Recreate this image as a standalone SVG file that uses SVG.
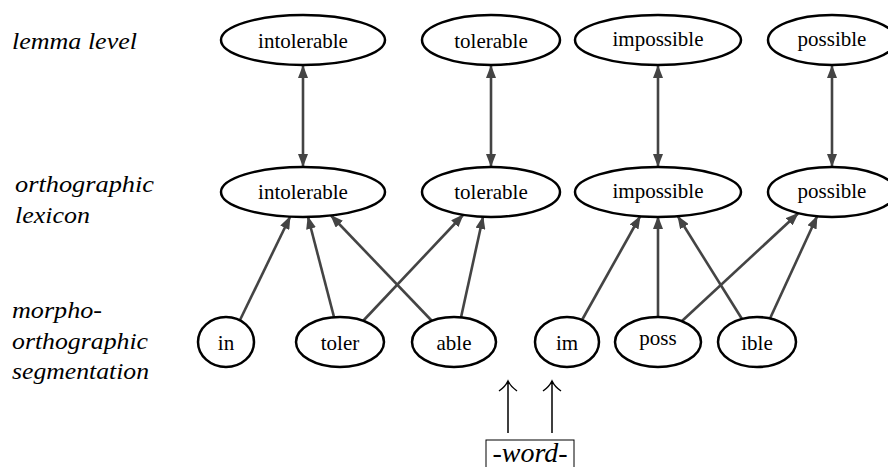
<svg xmlns="http://www.w3.org/2000/svg" width="888" height="467" viewBox="0 0 888 467" font-family="Liberation Serif, Times New Roman, serif">
<style>
.node ellipse{fill:#fff;stroke:#000;stroke-width:2.5}
.node text{font-size:21px;text-anchor:middle;fill:#000}
.lbl{font-style:italic;font-size:24px;fill:#000}
.edge{stroke:#444;stroke-width:2.6;fill:none;marker-end:url(#ah)}
.dbl{marker-start:url(#ah)}
.up{stroke:#000;stroke-width:1.5;fill:none}
</style>
<defs>
<marker id="ah" markerUnits="userSpaceOnUse" markerWidth="13" markerHeight="10" refX="12" refY="5" orient="auto-start-reverse">
<path d="M0,0 L13,5 L0,10 z" fill="#444"/>
</marker>
</defs>
<rect width="888" height="467" fill="#fff"/>
<g id="labels" font-family="Liberation Serif, serif">
<text class="lbl" x="12" y="49" textLength="125" lengthAdjust="spacingAndGlyphs">lemma level</text>
<text class="lbl" x="15" y="192" textLength="139" lengthAdjust="spacingAndGlyphs">orthographic</text>
<text class="lbl" x="15" y="223" textLength="75" lengthAdjust="spacingAndGlyphs">lexicon</text>
<text class="lbl" x="12" y="318" textLength="90" lengthAdjust="spacingAndGlyphs">morpho-</text>
<text class="lbl" x="12" y="349" textLength="136" lengthAdjust="spacingAndGlyphs">orthographic</text>
<text class="lbl" x="12" y="379" textLength="137" lengthAdjust="spacingAndGlyphs">segmentation</text>
</g>
<g id="connectors">
<line class="edge dbl" x1="303" y1="66" x2="303" y2="166"/>
<line class="edge dbl" x1="491" y1="66" x2="491" y2="166"/>
<line class="edge dbl" x1="658" y1="66" x2="658" y2="166"/>
<line class="edge dbl" x1="832" y1="66" x2="832" y2="166"/>
<line class="edge" x1="240" y1="320" x2="290" y2="217"/>
<line class="edge" x1="334" y1="317" x2="308" y2="217"/>
<line class="edge" x1="432" y1="321" x2="331" y2="215.5"/>
<line class="edge" x1="363" y1="321" x2="463" y2="215"/>
<line class="edge" x1="461" y1="317.5" x2="483" y2="217"/>
<line class="edge" x1="582" y1="320" x2="640" y2="216.5"/>
<line class="edge" x1="658" y1="317" x2="658" y2="217"/>
<line class="edge" x1="742" y1="319" x2="678" y2="216.5"/>
<line class="edge" x1="682" y1="321" x2="798" y2="213.5"/>
<line class="edge" x1="770" y1="318.5" x2="817" y2="216.5"/>
</g>
<g id="nodes" font-family="Liberation Serif, serif">
<g id="n-intolerable-lemma" class="node"><ellipse cx="303" cy="40" rx="82" ry="25"/><text x="303" y="47.5">intolerable</text></g>
<g id="n-tolerable-lemma" class="node"><ellipse cx="491" cy="40" rx="69" ry="25"/><text x="491" y="47.5">tolerable</text></g>
<g id="n-impossible-lemma" class="node"><ellipse cx="658" cy="40" rx="83" ry="25"/><text x="658" y="46">impossible</text></g>
<g id="n-possible-lemma" class="node"><ellipse cx="832" cy="40" rx="64" ry="25"/><text x="832" y="46">possible</text></g>
<g id="n-intolerable-orth" class="node"><ellipse cx="303" cy="192" rx="82" ry="25"/><text x="303" y="199">intolerable</text></g>
<g id="n-tolerable-orth" class="node"><ellipse cx="491" cy="192" rx="69" ry="25"/><text x="491" y="199">tolerable</text></g>
<g id="n-impossible-orth" class="node"><ellipse cx="658" cy="192" rx="83" ry="25"/><text x="658" y="198">impossible</text></g>
<g id="n-possible-orth" class="node"><ellipse cx="832" cy="192" rx="64" ry="25"/><text x="832" y="198">possible</text></g>
<g id="n-in" class="node"><ellipse cx="226" cy="342" rx="28" ry="25"/><text x="226" y="350">in</text></g>
<g id="n-toler" class="node"><ellipse cx="340" cy="342" rx="44" ry="25"/><text x="340" y="350">toler</text></g>
<g id="n-able" class="node"><ellipse cx="454" cy="342" rx="42" ry="25"/><text x="454" y="350">able</text></g>
<g id="n-im" class="node"><ellipse cx="567" cy="342" rx="32" ry="25"/><text x="567" y="350">im</text></g>
<g id="n-poss" class="node"><ellipse cx="658" cy="342" rx="43" ry="25"/><text x="658" y="345">poss</text></g>
<g id="n-ible" class="node"><ellipse cx="757" cy="342" rx="39" ry="25"/><text x="757" y="350">ible</text></g>
</g>
<g id="input">
<path class="up" d="M508,433 V381 M499,391 Q505,387 508,381 Q511,387 517,391"/>
<path class="up" d="M552,433 V381 M543,391 Q549,387 552,381 Q555,387 561,391"/>
<rect x="486" y="440" width="88" height="40" fill="none" stroke="#000" stroke-width="1"/>
<text x="530" y="462" font-family="Liberation Serif, serif" font-style="italic" font-size="28" text-anchor="middle">-word-</text>
</g>
</svg>
